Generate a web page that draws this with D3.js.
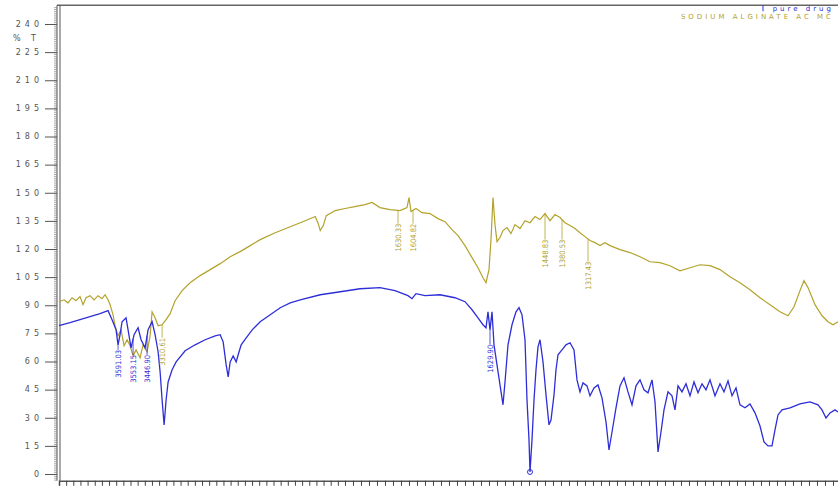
<!DOCTYPE html>
<html>
<head>
<meta charset="utf-8">
<script src="https://cdn.jsdelivr.net/npm/d3@7"></script>
<style>
  body { margin: 0; background: #fff; }
  svg { display: block; }
  .TickLabel { font-family: "DejaVu Sans", sans-serif; font-size: 8px; fill: #555; letter-spacing: 4px; }
  .PeakLabel { font-family: "DejaVu Sans Condensed", "DejaVu Sans", sans-serif; font-size: 7.5px; }
  .Legend { font-family: "DejaVu Sans", sans-serif; font-size: 7px; letter-spacing: 3px; }
</style>
</head>
<body>
<div id="ChartContainer"></div>
<script>
// y-axis tick labels (%T)
var yTicks = [240, 225, 210, 195, 180, 165, 150, 135, 120, 105, 90, 75, 60, 45, 30, 15, 0]

// pure drug, wavenumber (cm-1) and %T
var drugWn = [4000, 3923, 3853, 3783, 3713, 3657, 3629, 3601, 3587, 3573, 3559, 3531, 3517, 3496, 3475, 3447, 3426, 3398, 3377, 3349,
  3328, 3307, 3293, 3279, 3265, 3251, 3237, 3209, 3181, 3118, 3048, 2978, 2908, 2873, 2852, 2831, 2817, 2803, 2782, 2761,
  2747, 2726, 2691, 2649, 2593, 2523, 2453, 2383, 2313, 2173, 2033, 1962.5, 1912.5, 1875, 1842.5, 1832.5, 1822.5, 1800, 1762.5, 1725,
  1700, 1682.5, 1667.5, 1655, 1647.5, 1642.5, 1637.5, 1632.5, 1627.5, 1620, 1612.5, 1605, 1600, 1592.5, 1582.5, 1572.5, 1565, 1557.5, 1550, 1545,
  1540, 1537.5, 1532.5, 1527.5, 1522.5, 1517.5, 1512.5, 1505, 1497.5, 1490, 1485, 1477.5, 1472.5, 1467.5, 1457.5, 1447.5, 1437.5, 1427.5, 1420, 1412.5,
  1405, 1395, 1387.5, 1377.5, 1367.5, 1357.5, 1347.5, 1340, 1332.5, 1322.5, 1312.5, 1302.5, 1292.5, 1282.5, 1272.5, 1262.5, 1252.5, 1242.5, 1232.5, 1225,
  1217.5, 1210, 1202.5, 1192.5, 1182.5, 1175, 1167.5, 1157.5, 1147.5, 1137.5, 1127.5, 1117.5, 1107.5, 1097.5, 1087.5, 1075, 1062.5, 1052.5, 1042.5, 1032.5,
  1022.5, 1012.5, 1000, 987.5, 975, 962.5, 952.5, 942.5, 932.5, 925, 917.5, 907.5, 887.5, 862.5, 837.5, 817.5, 807.5, 797.5, 787.5, 775, 767.5]
var drugT = [79.1, 80.7, 82.3, 83.9, 85.5, 87.1, 82.3, 76.9, 68.9, 74.3, 81.2, 83.3, 76.9, 67.3, 74.3, 78.0, 71.6, 67.3, 76.9, 81.2,
  74.3, 65.2, 54.5, 39.5, 26.2, 39.5, 49.1, 55.6, 59.8, 65.7, 68.9, 71.6, 73.7, 74.3, 70.5, 58.2, 51.8, 59.8, 63.0, 59.8,
  63.6, 68.9, 72.6, 76.9, 81.2, 84.9, 88.7, 91.3, 92.9, 95.6, 97.2, 98.8, 99.4, 97.8, 95.1, 93.5, 96.2, 95.1, 95.6, 94.0,
  91.9, 87.6, 83.3, 79.6, 78.0, 86.5, 76.9, 86.5, 68.9, 58.2, 47.5, 36.9, 49.1, 68.9, 79.6, 86.5, 88.7, 84.9, 71.6, 39.5,
  18.2, 1.1, 18.2, 39.5, 55.6, 67.8, 71.6, 59.8, 42.2, 26.2, 28.8, 42.2, 55.6, 63.6, 66.2, 68.9, 70.0, 66.2, 50.2, 43.8,
  48.6, 47.0, 41.7, 45.9, 47.5, 40.6, 27.8, 12.8, 22.4, 35.3, 47.0, 51.3, 43.8, 36.9, 47.0, 50.2, 44.9, 43.3, 50.2, 38.5,
  11.8, 22.4, 34.2, 43.8, 41.7, 34.2, 47.0, 43.8, 48.1, 41.7, 49.1, 43.3, 48.1, 44.9, 50.2, 41.7, 48.1, 43.8, 49.7, 41.7,
  45.9, 36.9, 35.3, 37.4, 32.6, 25.6, 17.1, 15.0, 15.0, 23.5, 31.5, 34.2, 35.3, 37.4, 38.5, 36.9, 34.2, 29.9, 32.6, 34.2, 33.1]

// sodium alginate AC MC, wavenumber (cm-1) and %T
var algWn = [4000, 3965, 3937, 3909, 3881, 3853, 3832, 3811, 3783, 3755, 3727, 3699, 3678, 3657, 3643, 3622, 3608, 3587, 3566, 3545,
  3524, 3503, 3482, 3461, 3433, 3412, 3384, 3363, 3349, 3328, 3307, 3279, 3251, 3223, 3188, 3139, 3083, 3013, 2943, 2873,
  2803, 2733, 2663, 2593, 2488, 2383, 2278, 2208, 2187, 2173, 2152, 2131, 2068, 2000, 1975, 1950, 1932.5, 1912.5, 1887.5, 1862.5,
  1845, 1840, 1835, 1822.5, 1807.5, 1787.5, 1767.5, 1750, 1732.5, 1717.5, 1700, 1682.5, 1667.5, 1655, 1647.5, 1640, 1635, 1630, 1625, 1620,
  1612.5, 1605, 1595, 1585, 1575, 1562.5, 1550, 1537.5, 1525, 1512.5, 1500, 1487.5, 1475, 1462.5, 1450, 1437.5, 1425, 1412.5, 1400, 1387.5,
  1375, 1362.5, 1350, 1337.5, 1312.5, 1287.5, 1262.5, 1237.5, 1212.5, 1187.5, 1162.5, 1137.5, 1112.5, 1087.5, 1062.5, 1037.5, 1012.5, 987.5, 962.5, 937.5,
  912.5, 892.5, 877.5, 862.5, 852.5, 842.5, 825, 807.5, 792.5, 780, 767.5]
var algT = [91.9, 92.9, 91.3, 94.0, 92.4, 94.6, 90.3, 94.0, 95.1, 92.9, 95.1, 93.5, 95.6, 92.9, 90.3, 84.9, 79.1, 73.7, 76.9, 68.4,
  71.6, 68.4, 63.0, 66.2, 62.0, 68.9, 65.2, 73.7, 86.5, 83.3, 79.1, 79.6, 82.3, 85.5, 92.4, 97.8, 102.0, 105.8, 109.0, 112.2,
  115.9, 118.6, 121.8, 125.0, 128.7, 131.9, 135.1, 137.3, 133.5, 129.8, 132.5, 137.8, 140.5, 141.6, 142.6, 143.7, 144.8, 142.1, 141.0, 140.5,
  142.1, 147.4, 140.0, 141.6, 139.4, 138.9, 136.2, 134.6, 130.3, 127.1, 121.8, 115.4, 110.0, 104.7, 102.0, 109.0, 125.0, 147.4, 133.0, 123.9,
  126.1, 129.8, 131.4, 128.2, 133.0, 130.9, 135.1, 134.0, 137.3, 135.7, 138.9, 135.1, 138.4, 136.8, 134.0, 132.5, 130.9, 128.7, 126.6, 124.5,
  123.4, 121.8, 123.4, 121.8, 119.7, 118.1, 115.9, 113.2, 112.7, 111.1, 108.4, 110.0, 111.6, 111.1, 109.0, 105.2, 102.0, 98.3, 94.0, 90.3,
  86.5, 84.4, 89.2, 97.8, 103.1, 99.4, 90.3, 84.4, 81.2, 79.6, 81.2]

// peak labels: text, series, where the label stands (cm-1) and its top (%T)
var peakText = ["3591.03", "3553.15", "3446.90", "3310.61", "1629.90", "1630.33", "1604.82", "1448.83", "1380.53", "1317.43"]
var peakSeries = ["drug", "drug", "drug", "alg", "drug", "alg", "alg", "alg", "alg", "alg"]
var peakWn = [3587, 3482, 3384, 3279, 1637.5, 1867.5, 1830, 1500, 1457.5, 1392.5]
var peakTop = [66.2, 63.5, 63.5, 72.6, 68.9, 133.5, 133.5, 125.0, 125.0, 113.2]

var legendText = ["pure drug", "SODIUM ALGINATE AC MC"]

var fullWidth = 838
var fullHeight = 486
var drugColor = "#2e2ed8"
var algColor = "#b3a22c"

var svg = d3.select("#ChartContainer").append("svg")
  .attr("width", fullWidth)
  .attr("height", fullHeight)

svg.append("rect")
  .attr("width", fullWidth)
  .attr("height", fullHeight)
  .attr("fill", "#fff")

// 4000-2000 is compressed, below 2000 is expanded
var x = d3.scaleLinear()
  .domain([4000, 2000, 400])
  .range([59, 345, 985])
var y = d3.scaleLinear()
  .domain([0, 240])
  .range([474, 24])

var plotTop = y(250)
var plotBottom = y(-3.6)

// frame: top border and double y-axis line
svg.append("line")
  .attr("x1", 57).attr("x2", fullWidth)
  .attr("y1", plotTop).attr("y2", plotTop)
  .attr("stroke", "#666").attr("stroke-width", 1.5)
svg.append("line")
  .attr("x1", 57).attr("x2", 57)
  .attr("y1", plotTop).attr("y2", plotBottom)
  .attr("stroke", "#555").attr("stroke-width", 1)
svg.append("line")
  .attr("x1", 60).attr("x2", 60)
  .attr("y1", plotTop).attr("y2", plotBottom)
  .attr("stroke", "#555").attr("stroke-width", 1)

// y-axis minor and major ticks
var yMinor = svg.append("g")
  .attr("transform", "translate(57,0)")
  .call(d3.axisLeft(y).tickValues(d3.range(-3, 250, 1)).tickSize(3).tickFormat(""))
yMinor.select(".domain").remove()
yMinor.selectAll("line").attr("stroke", "#777").attr("stroke-width", 0.6)

var yMajor = svg.append("g")
  .attr("transform", "translate(57,0)")
  .call(d3.axisLeft(y).tickValues(yTicks).tickSize(12).tickFormat(""))
yMajor.select(".domain").remove()
yMajor.selectAll("line").attr("stroke", "#555")

svg.selectAll(".TickLabel")
  .data(yTicks)
  .enter().append("text")
  .attr("class", "TickLabel")
  .attr("x", 43)
  .attr("y", d => y(d))
  .attr("dy", "0.35em")
  .attr("text-anchor", "end")
  .text(d => d)

svg.append("text")
  .attr("class", "TickLabel")
  .attr("x", 40)
  .attr("y", (y(240) + y(225)) / 2)
  .attr("dy", "0.35em")
  .attr("text-anchor", "end")
  .text("% T")

// x-axis: ticks only, labels are off the picture
var xTickValues = d3.range(4000, 2000, -50).concat(d3.range(2000, 400, -20))
var xAxis = svg.append("g")
  .attr("transform", "translate(0," + plotBottom + ")")
  .call(d3.axisBottom(x).tickValues(xTickValues).tickSize(5).tickFormat(""))
xAxis.select(".domain").attr("stroke", "#555").attr("stroke-width", 1.5)
xAxis.selectAll("line").attr("stroke", "#444").attr("stroke-width", 1)

var plot = svg.append("g")

var line = d3.line()
  .x(d => x(d[0]))
  .y(d => y(d[1]))

var series = {
  drug: d3.zip(drugWn, drugT),
  alg: d3.zip(algWn, algT),
}

plot.append("path")
  .datum(series.alg)
  .attr("fill", "none")
  .attr("stroke", algColor)
  .attr("stroke-width", 1.2)
  .attr("d", line)

plot.append("path")
  .datum(series.drug)
  .attr("fill", "none")
  .attr("stroke", drugColor)
  .attr("stroke-width", 1.3)
  .attr("d", line)

// value of a series at a wavenumber (data runs high -> low)
function valueAt(data, wn) {
  var i = d3.bisector(d => -d[0]).left(data, -wn)
  if (i <= 0) return data[0][1]
  if (i >= data.length) return data[data.length - 1][1]
  var a = data[i - 1], b = data[i]
  var t = (wn - a[0]) / (b[0] - a[0])
  return a[1] + t * (b[1] - a[1])
}

// peak label leaders and texts
peakText.forEach((txt, i) => {
  var data = series[peakSeries[i]]
  var color = peakSeries[i] === "drug" ? drugColor : algColor
  var px = x(peakWn[i])
  var curveY = y(valueAt(data, peakWn[i]))
  var topY = y(peakTop[i])
  if (topY > curveY + 2) {
    plot.append("line")
      .attr("x1", px).attr("x2", px)
      .attr("y1", curveY).attr("y2", topY)
      .attr("stroke", color)
      .attr("stroke-width", 0.8)
  }
  plot.append("text")
    .attr("class", "PeakLabel")
    .attr("transform", `translate(${px + 2.5},${topY}) rotate(-90)`)
    .attr("text-anchor", "end")
    .attr("fill", color)
    .text(txt)
})

// minimum marker on the pure drug trace
var lowest = d3.least(series.drug, d => d[1])
plot.append("circle")
  .attr("cx", x(lowest[0]))
  .attr("cy", y(lowest[1]))
  .attr("r", 2.5)
  .attr("fill", "none")
  .attr("stroke", drugColor)

// legend top right
svg.append("line")
  .attr("x1", 763).attr("x2", 763)
  .attr("y1", plotTop).attr("y2", plotTop + 6)
  .attr("stroke", drugColor)
svg.append("text")
  .attr("class", "Legend")
  .attr("x", 834)
  .attr("y", plotTop + 6)
  .attr("text-anchor", "end")
  .attr("fill", drugColor)
  .text(legendText[0])
svg.append("text")
  .attr("class", "Legend")
  .attr("x", 834)
  .attr("y", plotTop + 14)
  .attr("text-anchor", "end")
  .attr("fill", algColor)
  .text(legendText[1])
</script>
</body>
</html>
